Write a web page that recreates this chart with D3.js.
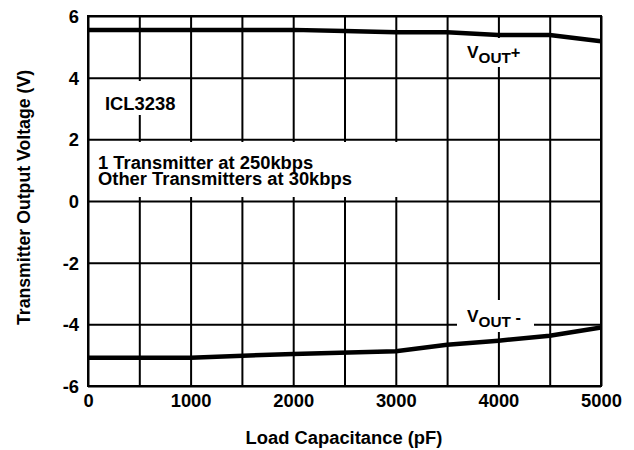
<!DOCTYPE html>
<html><head><meta charset="utf-8">
<script src="https://cdn.jsdelivr.net/npm/d3@7"></script>
<style>
html,body{margin:0;padding:0;background:#fff;}
text{font-family:"Liberation Sans",Arial,Helvetica,sans-serif;font-weight:bold;fill:#000;}
</style></head>
<body>
<svg id="chart" width="634" height="450"></svg>
<script>
const loadCap = [0, 1000, 2000, 2500, 3000, 3500, 4000, 4500, 5000];
const voutPlus = [5.55, 5.55, 5.55, 5.51, 5.47, 5.47, 5.38, 5.38, 5.18];
const loadCapMinus = [0, 1000, 2000, 3000, 3500, 4000, 4500, 5000];
const voutMinus = [-5.08, -5.08, -4.96, -4.87, -4.66, -4.53, -4.37, -4.10];
const xTickVals = [0, 1000, 2000, 3000, 4000, 5000];
const xGridVals = [0, 500, 1000, 1500, 2000, 2500, 3000, 3500, 4000, 4500, 5000];
const yTickVals = [-6, -4, -2, 0, 2, 4, 6];
const xTitle = "Load Capacitance (pF)";
const yTitle = "Transmitter Output Voltage (V)";
const noteDevice = "ICL3238";
const noteLines = ["1 Transmitter at 250kbps", "Other Transmitters at 30kbps"];

const SX = 1.02, FS = 18;
const svg = d3.select("#chart");
const x = d3.scaleLinear().domain([0, 5000]).range([88, 601]);
const y = d3.scaleLinear().domain([-6, 6]).range([386, 16]);

// grid via axes
const gx = svg.append("g").attr("transform", `translate(0,${y(-6)})`)
  .call(d3.axisBottom(x).tickValues(xGridVals).tickSize(-(y(-6) - y(6))).tickFormat(""));
const gy = svg.append("g").attr("transform", `translate(${x(0)},0)`)
  .call(d3.axisLeft(y).tickValues(yTickVals).tickSize(-(x(5000) - x(0))).tickFormat(""));
[gx, gy].forEach(g => {
  g.selectAll(".domain").remove();
  g.selectAll("line").attr("stroke", "#000").attr("stroke-width", 2);
});
svg.append("rect").attr("x", x(0)).attr("y", y(6)).attr("width", x(5000) - x(0)).attr("height", y(-6) - y(6))
  .attr("fill", "none").attr("stroke", "#000").attr("stroke-width", 2);

// tick labels via axes
const lx = svg.append("g").attr("transform", `translate(0,${y(-6)})`)
  .call(d3.axisBottom(x).tickValues(xTickVals).tickSize(0).tickFormat(d => String(d)));
lx.select(".domain").remove();
lx.selectAll("text").attr("y", 21.5).attr("dy", null).attr("font-size", FS)
  .attr("transform", `scale(${SX},1)`);
const ly = svg.append("g").attr("transform", `translate(${x(0)},0)`)
  .call(d3.axisLeft(y).tickValues(yTickVals).tickSize(0).tickFormat(d => String(d)));
ly.select(".domain").remove();
ly.selectAll("text").attr("x", -9 / SX).attr("dy", null).attr("y", 6.5).attr("font-size", FS)
  .attr("transform", `scale(${SX},1)`);

function stext(px, py, str, anchor) {
  return svg.append("text").attr("transform", `translate(${px},${py}) scale(${SX},1)`)
    .attr("text-anchor", anchor || "start").attr("font-size", FS).text(str);
}

// annotation boxes
function box(x0, y0, x1, y1) {
  svg.append("rect").attr("x", x0).attr("y", y0).attr("width", x1 - x0).attr("height", y1 - y0).attr("fill", "#fff");
}
box(97, 81, 182, 115);
box(91, 142, 415, 197);
box(460, 38, 530, 67);
box(457, 300, 534, 332);

stext(105, 109.5, noteDevice);
const note = svg.append("text").attr("transform", `translate(98,168.5) scale(${SX},1)`).attr("font-size", FS);
noteLines.forEach((s, i) => note.append("tspan").attr("x", 0).attr("y", i * 17).text(s));

// VOUT labels
function vlabel(px, py, sign, signDy) {
  const t = svg.append("text").attr("transform", `translate(${px},${py}) scale(${SX},1)`);
  t.append("tspan").attr("font-size", 17).text("V");
  t.append("tspan").attr("font-size", 15).attr("dy", 5).text("OUT");
  t.append("tspan").attr("font-size", 16).attr("dy", signDy).text(sign);
}
vlabel(467, 57.5, "+", -5);
vlabel(467, 321.5, "\u00a0-", -4);

// curves
const line = d3.line().x(d => x(d[0])).y(d => y(d[1]));
svg.append("path").datum(loadCap.map((c, i) => [c, voutPlus[i]]))
  .attr("d", line).attr("fill", "none").attr("stroke", "#000").attr("stroke-width", 4.5);
svg.append("path").datum(loadCapMinus.map((c, i) => [c, voutMinus[i]]))
  .attr("d", line).attr("fill", "none").attr("stroke", "#000").attr("stroke-width", 4.5);

// titles
stext(344, 444, xTitle, "middle");
svg.append("text").attr("transform", `translate(29.5,197.5) rotate(-90)`)
  .attr("text-anchor", "middle").attr("font-size", 17.7).text(yTitle);
</script>
</body></html>
